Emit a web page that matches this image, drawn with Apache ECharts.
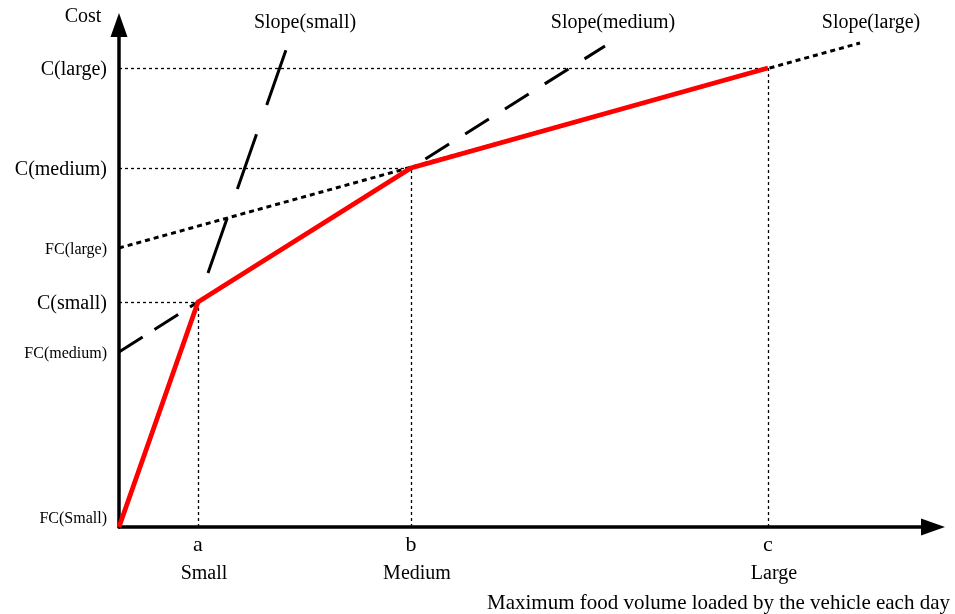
<!DOCTYPE html>
<html>
<head>
<meta charset="utf-8">
<script src="https://cdn.jsdelivr.net/npm/echarts@6/dist/echarts.min.js"></script>
<style>
  html, body { margin: 0; padding: 0; background: #fff; }
  #chart { width: 955px; height: 614px; }
</style>
</head>
<body>
<div id="chart"></div>
<script>
// 轴上的刻度名称
const capacityLetters = ['a', 'b', 'c']
const sizeNames = ['Small', 'Medium', 'Large']
// 每种车型的最大装载量(x) 和 对应成本(y)
const capacity = [79, 292, 649]
const costAtCapacity = [225, 359, 459]
const costNames = ['C(small)', 'C(medium)', 'C(large)']
// 固定成本(与y轴的截距)
const fixedCost = [0, 175, 279]
const fixedCostNames = ['FC(Small)', 'FC(medium)', 'FC(large)']
// 斜率延长线
const slopeNames = ['Slope(small)', 'Slope(medium)', 'Slope(large)']
const slopeSmall = [[89, 254], [168, 480]]
const slopeMediumLow = [[0, 175], [79, 225]]
const slopeMediumHigh = [[292, 359], [486, 481]]
const slopeLarge = [[0, 279], [741, 484]]

const X_MAX = 814
const Y_MAX = 502
const FONT = '"Liberation Serif", "DejaVu Serif", serif'

const chart = echarts.init(document.getElementById('chart'))

// 红色的总成本折线
const costLine = [[0, fixedCost[0]]]
capacity.forEach((x, i) => costLine.push([x, costAtCapacity[i]]))

// 点线辅助线
const guides = []
capacity.forEach((x, i) => {
    guides.push({coords: [[0, costAtCapacity[i]], [x, costAtCapacity[i]]]})
    guides.push({coords: [[x, 0], [x, costAtCapacity[i]]]})
})

// y轴标签
const yLabels = []
costNames.forEach((n, i) => yLabels.push({name: n, value: [0, costAtCapacity[i]], big: true}))
fixedCostNames.forEach((n, i) => yLabels.push({name: n, value: [0, fixedCost[i]], big: false}))

// 轴线, 末端为实心三角箭头
const axisStyle = {
    show: true, onZero: false, symbol: ['none', 'triangle'], symbolSize: [17, 24],
    lineStyle: {color: '#000', width: 3.5}
}

const option = {
    animation: false,
    grid: {left: 119, right: 22, top: 25, bottom: 87},
    xAxis: {
        type: 'value', min: 0, max: X_MAX,
        axisLine: axisStyle,
        axisTick: {show: false}, axisLabel: {show: false}, splitLine: {show: false}
    },
    yAxis: {
        type: 'value', min: 0, max: Y_MAX,
        axisLine: axisStyle,
        axisTick: {show: false}, axisLabel: {show: false}, splitLine: {show: false}
    },
    series: [
        {
            type: 'lines', coordinateSystem: 'cartesian2d', z: 2,
            lineStyle: {color: '#000', width: 1.3, type: [3, 3], opacity: 1},
            data: guides
        },
        {
            type: 'line', data: slopeSmall, symbol: 'none', z: 3,
            lineStyle: {color: '#000', width: 3, type: [58, 31], cap: 'butt'}
        },
        {
            type: 'line', data: slopeMediumLow, symbol: 'none', z: 3,
            lineStyle: {color: '#000', width: 3, type: [28, 14], cap: 'butt'}
        },
        {
            type: 'line', data: slopeMediumHigh, symbol: 'none', z: 3,
            lineStyle: {color: '#000', width: 3, type: [28, 19], dashOffset: 30, cap: 'butt'}
        },
        {
            type: 'line', data: slopeLarge, symbol: 'none', z: 3,
            lineStyle: {color: '#000', width: 3, type: [5, 4], cap: 'butt'}
        },
        {
            type: 'line', data: costLine, symbol: 'none', z: 5,
            lineStyle: {color: '#ff0000', width: 4.8, join: 'miter'}
        },
        {
            // y轴上的标签
            type: 'scatter', symbolSize: 0, clip: false, silent: true,
            itemStyle: {opacity: 1},
            data: yLabels.map(d => ({
                value: d.value,
                label: {
                    show: true, position: 'left', distance: 12,
                    formatter: d.name, color: '#000', fontFamily: FONT,
                    fontSize: d.big ? 20 : 16,
                    offset: [0, d.value[1] === 0 ? -8 : 2]
                }
            }))
        },
        {
            // x轴上的标签
            type: 'scatter', symbolSize: 0, clip: false, silent: true,
            itemStyle: {opacity: 1},
            data: capacity.map((x, i) => ({
                value: [x, 0],
                label: {
                    show: true, position: 'inside', offset: [0, 18],
                    formatter: capacityLetters[i], color: '#000', fontFamily: FONT, fontSize: 22
                }
            }))
        },
        {
            type: 'scatter', symbolSize: 0, clip: false, silent: true,
            itemStyle: {opacity: 1},
            data: capacity.map((x, i) => ({
                value: [x, 0],
                label: {
                    show: true, position: 'inside', offset: [6, 47],
                    formatter: sizeNames[i], color: '#000', fontFamily: FONT, fontSize: 20
                }
            }))
        }
    ],
    graphic: [
        {type: 'text', x: 83, y: 17, style: {text: 'Cost', font: '20px ' + FONT, fill: '#000', align: 'center', verticalAlign: 'middle'}},
        {type: 'text', x: 305, y: 23, style: {text: slopeNames[0], font: '20px ' + FONT, fill: '#000', align: 'center', verticalAlign: 'middle'}},
        {type: 'text', x: 613, y: 23, style: {text: slopeNames[1], font: '20px ' + FONT, fill: '#000', align: 'center', verticalAlign: 'middle'}},
        {type: 'text', x: 871, y: 23, style: {text: slopeNames[2], font: '20px ' + FONT, fill: '#000', align: 'center', verticalAlign: 'middle'}},
        {type: 'text', x: 950, y: 603, style: {text: 'Maximum food volume loaded by the vehicle each day', font: '21px ' + FONT, fill: '#000', align: 'right', verticalAlign: 'middle'}}
    ]
}

chart.setOption(option)
</script>
</body>
</html>
